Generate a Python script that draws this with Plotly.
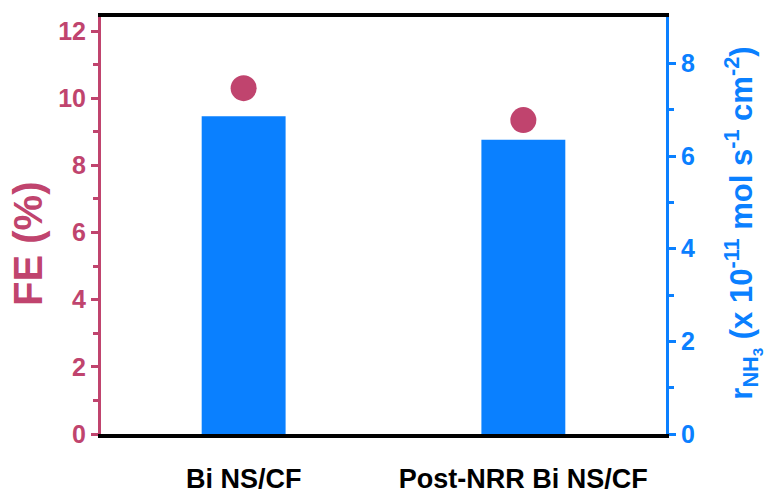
import plotly.graph_objects as go

# Samples on the x axis
samples = ["Bi NS/CF", "Post-NRR Bi NS/CF"]
# Faradaic efficiency (%), left axis
fe_percent = [10.3, 9.35]
# NH3 yield rate (x 1e-11 mol s^-1 cm^-2), right axis
nh3_rate = [6.86, 6.35]
# Tick values of both y axes
fe_ticks = [0, 2, 4, 6, 8, 10, 12]
rate_ticks = [0, 2, 4, 6, 8]

FE_COLOR = "#c0446e"
RATE_COLOR = "#0a80ff"
FONT = "Liberation Sans, Arial, sans-serif"


def bold(items):
    return [f"<b>{v}</b>" for v in items]


fig = go.Figure()

fig.add_trace(go.Bar(
    x=samples, y=nh3_rate, yaxis="y2",
    width=0.3, marker=dict(color=RATE_COLOR, line=dict(width=0)),
    showlegend=False,
))
fig.add_trace(go.Scatter(
    x=samples, y=fe_percent, yaxis="y", mode="markers",
    marker=dict(size=26, color=FE_COLOR),
    showlegend=False,
))

fig.update_layout(
    width=772, height=495,
    margin=dict(l=101, r=106, t=17, b=61),
    paper_bgcolor="white", plot_bgcolor="white",
    font=dict(family=FONT),
    xaxis=dict(
        range=[-0.51, 1.51], showgrid=False, zeroline=False,
        showline=True, linecolor="black", linewidth=4, mirror=True,
        tickvals=samples, ticktext=bold(samples),
        ticks="", ticklabelstandoff=18, automargin=False,
        tickfont=dict(size=27, color="black", family=FONT),
    ),
    yaxis=dict(
        range=[0, 12.42], tickvals=fe_ticks, ticktext=bold(fe_ticks),
        showgrid=False, zeroline=False, automargin=False,
        showline=True, linecolor=FE_COLOR, linewidth=3,
        ticks="outside", ticklen=7, tickwidth=3, tickcolor=FE_COLOR,
        tickfont=dict(size=25, color=FE_COLOR, family=FONT),
        minor=dict(tickvals=[1, 3, 5, 7, 9, 11], ticks="outside",
                   ticklen=5, tickwidth=3, tickcolor=FE_COLOR),
    ),
    yaxis2=dict(
        range=[0, 9], tickvals=rate_ticks, ticktext=bold(rate_ticks),
        overlaying="y", side="right", anchor="x",
        showgrid=False, zeroline=False, automargin=False,
        showline=True, linecolor=RATE_COLOR, linewidth=3,
        ticks="outside", ticklen=7, tickwidth=3, tickcolor=RATE_COLOR,
        tickfont=dict(size=25, color=RATE_COLOR, family=FONT),
        minor=dict(tickvals=[1, 3, 5, 7], ticks="outside",
                   ticklen=5, tickwidth=3, tickcolor=RATE_COLOR),
    ),
    annotations=[
        dict(text="<b>FE (%)</b>", xref="paper", yref="paper",
             x=-0.128, y=0.455, xanchor="center", yanchor="middle",
             textangle=-90, showarrow=False,
             font=dict(size=40, color=FE_COLOR, family=FONT)),
        dict(text="<b>r<sub>NH<sub>3</sub></sub> (x 10<sup>-11</sup> mol s<sup>-1</sup> cm<sup>-2</sup>)</b>",
             xref="paper", yref="paper",
             x=1.135, y=0.505, xanchor="center", yanchor="middle",
             textangle=-90, showarrow=False,
             font=dict(size=31, color=RATE_COLOR, family=FONT)),
    ],
)

fig.write_html("out.html")
